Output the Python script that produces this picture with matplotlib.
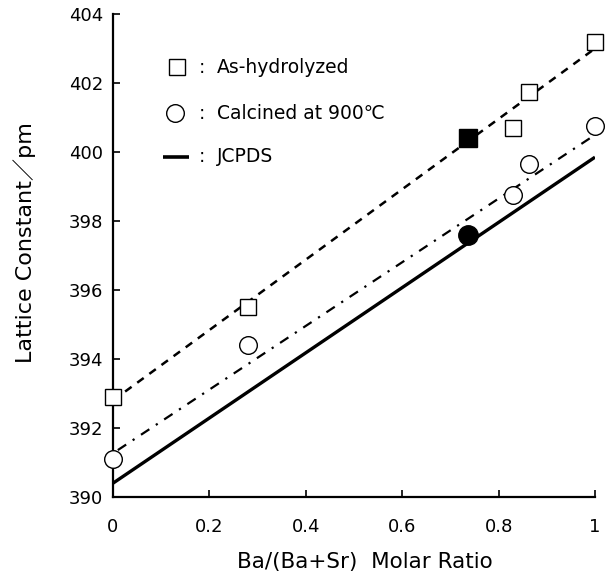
import matplotlib
matplotlib.use("Agg")
import matplotlib.pyplot as plt
import numpy as np

# Data
hyd_x = [0.0, 0.28, 0.83, 0.863, 1.0]
hyd_y = [392.9, 395.5, 400.7, 401.75, 403.2]
hyd_fill_x = [0.737]
hyd_fill_y = [400.4]
cal_x = [0.0, 0.28, 0.83, 0.863, 1.0]
cal_y = [391.1, 394.4, 398.75, 399.65, 400.75]
cal_fill_x = [0.737]
cal_fill_y = [397.6]
fit_hyd_x = [0.0, 1.0]
fit_hyd_y = [392.8, 403.0]
fit_cal_x = [0.01, 0.995]
fit_cal_y = [391.36, 400.45]
jcpds_x = [0.0, 1.0]
jcpds_y = [390.4, 399.85]

xticks = [0, 0.2, 0.4, 0.6, 0.8, 1]
xticklabels = ["0", "0.2", "0.4", "0.6", "0.8", "1"]
yticks = [390, 392, 394, 396, 398, 400, 402, 404]

FAM = ['DejaVu Sans', 'Noto Sans CJK JP']
plt.rcParams['font.family'] = FAM

fig = plt.figure(figsize=(6.08, 5.76), dpi=100)
ax = fig.add_axes([113/608, 1-497/576, (595-113)/608, (497-14)/576])

ax.plot(fit_hyd_x, fit_hyd_y, color='black', lw=1.8, dashes=(3.2, 2.8), zorder=2)
ax.plot(fit_cal_x, fit_cal_y, color='black', lw=1.6, dashes=(4.5, 3.5, 1.0, 3.5), zorder=2)
ax.plot(jcpds_x, jcpds_y, color='black', lw=2.4, zorder=2, solid_capstyle='butt')

ax.plot(hyd_x, hyd_y, 's', ms=11.3, mfc='white', mec='black', mew=1.0, clip_on=False, zorder=3)
ax.plot(hyd_fill_x, hyd_fill_y, 's', ms=12.5, mfc='black', mec='black', mew=1.0, clip_on=False, zorder=3)
ax.plot(cal_x, cal_y, 'o', ms=12.7, mfc='white', mec='black', mew=1.0, clip_on=False, zorder=3)
ax.plot(cal_fill_x, cal_fill_y, 'o', ms=14, mfc='black', mec='black', mew=1.0, clip_on=False, zorder=3)

# Legend (manual, in data coords)
ax.plot([0.133], [402.46], 's', ms=11.3, mfc='white', mec='black', mew=1.0)
ax.plot([0.129], [401.13], 'o', ms=12.7, mfc='white', mec='black', mew=1.0)
ax.plot([0.104, 0.158], [399.86, 399.86], color='black', lw=2.6, solid_capstyle='butt')
leg_fs = 13.5
for yy, lab in [(402.46, "As-hydrolyzed"), (401.13, "Calcined at 900\u2103"), (399.86, "JCPDS")]:
    ax.text(0.185, yy, ":", fontsize=leg_fs, va='center', ha='center')
    ax.text(0.216, yy, lab, fontsize=leg_fs, va='center', ha='left')

ax.set_xlim(0, 1)
ax.set_ylim(390, 404)
ax.set_xticks(xticks)
ax.set_xticklabels(xticklabels)
ax.set_yticks(yticks)
ax.tick_params(direction='in', length=5, width=1.2, labelsize=13)
ax.tick_params(axis='y', pad=7)
ax.tick_params(axis='x', pad=15)
for s in ['top', 'right']:
    ax.spines[s].set_visible(False)
for s in ['left', 'bottom']:
    ax.spines[s].set_linewidth(1.6)

ax.set_xlabel("Ba/(Ba+Sr)  Molar Ratio", fontsize=15.5)
ax.set_ylabel("Lattice Constant\uff0fpm", fontsize=16)
ax.xaxis.set_label_coords((365-113)/482, -(562-497)/483, transform=ax.transAxes)
ax.xaxis.label.set_va('center')
ax.yaxis.set_label_coords(-(113-25)/482, (497-243)/483, transform=ax.transAxes)
ax.yaxis.label.set_va('center')

fig.savefig("out.png", dpi=100)
